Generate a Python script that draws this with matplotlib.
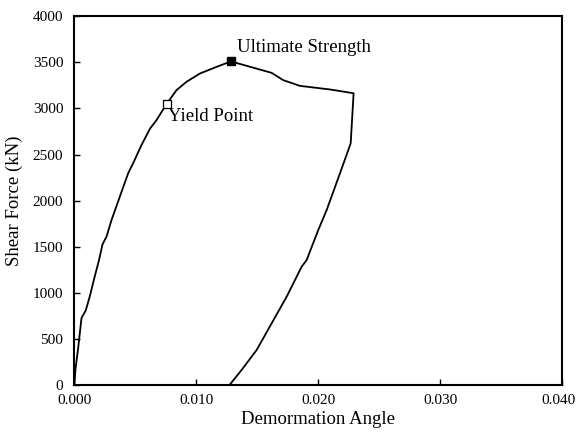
import matplotlib
matplotlib.use("Agg")
import matplotlib.pyplot as plt
import matplotlib.transforms as mtransforms
from matplotlib.ticker import FormatStrFormatter

plt.rcParams["font.family"] = ["Liberation Serif", "DejaVu Serif"]

# load path: rising branch, softening, then unloading back to zero
angle = [0.0, 0.0001, 0.0003, 0.00059, 0.00094, 0.00127, 0.00168, 0.00204,
         0.00231, 0.00264, 0.00305, 0.00373, 0.00442, 0.00482, 0.00551,
         0.00620, 0.00674, 0.00756, 0.00838, 0.00920, 0.01030, 0.01167,
         0.01284, 0.01618, 0.01713, 0.01850, 0.02096, 0.02290, 0.02266,
         0.02178, 0.02069, 0.02000, 0.01905, 0.01864, 0.01741, 0.01618,
         0.01495, 0.01372, 0.01270]
force = [0, 180, 385, 730, 813, 965, 1183, 1365, 1528, 1611, 1791, 2044,
         2300, 2406, 2604, 2780, 2874, 3048, 3199, 3289, 3379, 3451, 3510,
         3386, 3307, 3245, 3206, 3165, 2622, 2297, 1900, 1683, 1358, 1286,
         961, 673, 384, 168, 0]

yield_pt = (0.00756, 3048)
ultimate_pt = (0.01284, 3510)

fig = plt.figure(figsize=(5.76, 4.37), dpi=100)
ax = fig.add_axes([0.129, 0.118, 0.847, 0.845])

ax.plot(angle, force, color="black", lw=1.3)
ax.plot(*yield_pt, marker="s", ms=5.5, mfc="white", mec="black", mew=0.9)
ax.plot(*ultimate_pt, marker="s", ms=5.5, color="black")

ax.text(yield_pt[0] + 0.00015, yield_pt[1] - 140, "Yield Point",
        fontsize=13.5, va="center", ha="left")
ax.text(ultimate_pt[0] + 0.0005, ultimate_pt[1] + 150, "Ultimate Strength",
        fontsize=13.5, va="center", ha="left")

ax.set_xlim(0, 0.040)
ax.set_ylim(0, 4000)
ax.set_xticks([0.0, 0.01, 0.02, 0.03, 0.04])
ax.set_yticks(range(0, 4001, 500))
ax.xaxis.set_major_formatter(FormatStrFormatter("%.3f"))
ax.tick_params(direction="in", length=4, width=1, labelsize=11)
ax.tick_params(axis="x", pad=6)
ax.tick_params(axis="y", pad=8)

# nudge the last x label so it stays inside the figure
shift = mtransforms.ScaledTranslation(-4 / 100, 0, fig.dpi_scale_trans)
last = ax.get_xticklabels()[-1]
last.set_transform(last.get_transform() + shift)

for s in ax.spines.values():
    s.set_linewidth(1.5)

ax.set_xlabel("Demormation Angle", fontsize=13.5, labelpad=3)
ax.set_ylabel("Shear Force (kN)", fontsize=13.5, labelpad=7)

fig.savefig("out.png", dpi=100)
